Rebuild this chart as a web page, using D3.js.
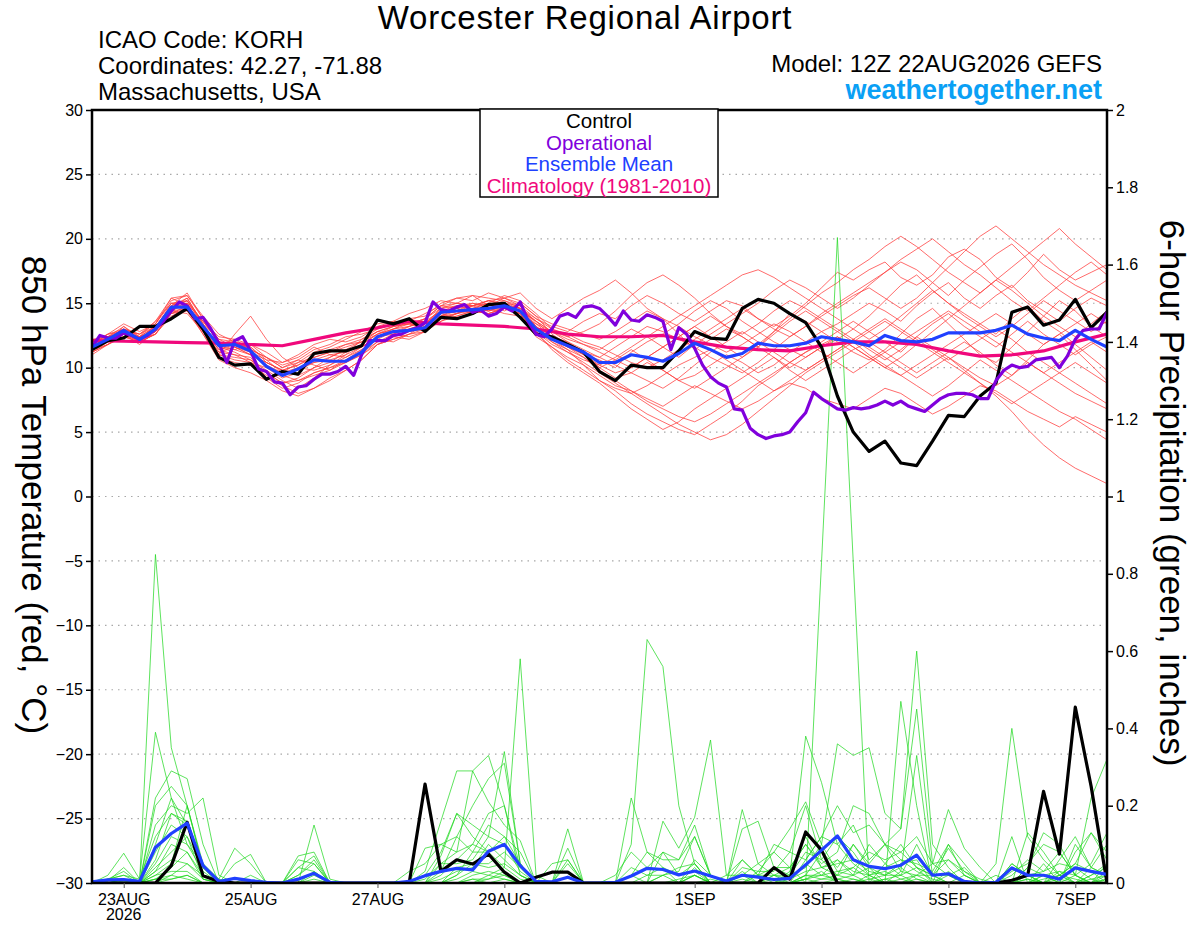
<!DOCTYPE html>
<html>
<head>
<meta charset="utf-8">
<script src="https://cdn.jsdelivr.net/npm/d3@7"></script>
<style>
body { margin: 0; background: #fff; }
text { font-family: "Liberation Sans", Arial, Helvetica, sans-serif; }
</style>
</head>
<body>
<script>
// run start and x-axis labels
var RUN_START = Date.UTC(2026, 7, 22, 12);
var tickDays = [Date.UTC(2026,7,23), Date.UTC(2026,7,25), Date.UTC(2026,7,27), Date.UTC(2026,7,29),
                Date.UTC(2026,8,1), Date.UTC(2026,8,3), Date.UTC(2026,8,5), Date.UTC(2026,8,7)];
var tickNames = ["23AUG", "25AUG", "27AUG", "29AUG", "1SEP", "3SEP", "5SEP", "7SEP"];
var tempTicks = [-30, -25, -20, -15, -10, -5, 0, 5, 10, 15, 20, 25, 30];
var precipTicks = [0, 0.2, 0.4, 0.6, 0.8, 1, 1.2, 1.4, 1.6, 1.8, 2];

// 850 hPa temperature, 6-hourly (control, ensemble mean)
var controlT = [11.4,12.1,12.3,13.2,13.2,13.8,14.6,13.0, 10.8,10.2,10.3,9.1,9.7,9.5,11.1,11.3,
  11.3,11.7,13.7,13.4,13.8,12.8,13.9,13.8, 14.2,14.9,15.0,13.9,12.6,12.4,11.8,11.2,
  9.7,9.0,10.2,10.0,10.0,11.3,12.8,12.3, 12.2,14.6,15.3,15.0,14.2,13.5,11.6,7.8,
  5.0,3.5,4.3,2.6,2.4,4.3,6.3,6.2, 7.8,8.8,14.3,14.7,13.3,13.7,15.3,13.1, 14.3];
var meanT = [11.6,12.2,12.9,12.2,13.0,14.7,14.7,13.2, 11.7,11.8,11.3,10.1,9.4,9.9,10.6,10.5,
  10.5,11.2,12.4,12.8,12.9,13.1,14.3,14.4, 14.5,14.6,14.8,14.4,13.0,12.2,11.7,11.2,
  10.4,10.4,11.0,10.8,10.5,11.1,11.9,11.4, 10.8,11.1,11.9,11.7,11.7,11.9,12.4,12.2,
  12.0,11.7,12.5,12.1,12.0,12.2,12.7,12.7, 12.7,12.9,13.3,12.6,12.3,12.1,12.9,12.2, 11.6];
// operational run, 3-hourly
var operT = [11.6,12.5,12.3,12.3,12.7,12.5,12.2,12.5, 13.0,13.6,14.4,15.1,14.8,13.8,13.9,13.0,
  11.9,10.4,12.1,12.4,11.3,9.9,9.7,8.9, 8.8,7.9,8.5,8.6,9.1,9.5,9.5,9.7,
  10.1,9.4,11.0,12.1,12.1,12.1,12.5,12.6, 12.9,13.1,13.5,15.1,14.5,14.4,14.7,14.9,
  14.3,14.5,14.0,14.2,14.7,14.4,15.1,13.6, 12.6,12.4,13.0,14.0,14.2,13.9,14.7,14.8,
  14.6,14.0,13.3,14.4,13.7,13.6,14.1,13.9, 13.6,11.4,13.1,12.6,11.5,10.2,9.3,8.8,
  8.5,6.8,6.7,5.3,4.8,4.5,4.7,4.8, 5.0,5.8,6.5,8.1,7.6,7.2,6.8,6.7,
  6.9,6.8,6.9,7.1,7.4,7.1,7.4,7.0, 6.8,6.6,7.1,7.6,7.9,8.0,8.0,7.9,
  7.6,7.6,9.0,9.8,10.2,10.0,10.1,10.6, 10.7,10.8,10.0,10.9,12.2,12.9,13.0,13.0, 14.3];
// climatology, 12-hourly
var climT = [12.1,12.05,12.0,11.95,11.9,11.8,11.7,12.2,12.7,13.1,13.6,13.4,13.3,13.2,13.0,12.6,
  12.4,12.4,12.5,12.0,11.6,11.4,11.3,11.7,12.0,12.0,11.8,11.3,10.9,11.0,11.3,12.0,12.6];

// 6-hour precipitation (control, ensemble mean)
var controlP = [0,0,0,0,0,0.045,0.157,0.019,0.004, 0,0,0,0,0,0,0,0,0,0,0,
  0,0.256,0.03,0.06,0.049,0.075,0.028,0,0.015,0.028,0.028,0,
  0,0,0,0,0,0,0,0,0,0,0,0.04,0.01,
  0.132,0.085,0,0,0,0,0,0,0,0,0,0, 0,0.007,0.02,0.237,0.075,0.455,0.25,0];
var meanP = [0.003,0.008,0.009,0.004,0.092,0.128,0.155,0.045,0.004,
  0.012,0.006,0.002,0,0.01,0.025,0.002,0,0,0,0,
  0.004,0.019,0.03,0.038,0.034,0.082,0.1,0.045,0.004,0.003,0.015,0,
  0,0.002,0.018,0.038,0.035,0.021,0.031,0.018,0.005,0.02,0.015,0.009,0.012,
  0.047,0.085,0.122,0.06,0.043,0.037,0.046,0.072,0.02,0.024,0.004,0,
  0.002,0.039,0.02,0.02,0.01,0.039,0.03,0.022];

// ensemble members, temperature (6-hourly, in pieces)
var memberT = [
  [[11.8,12.4,12.6,12.0,13.4,15.2,15.6,13.8],[12.2,11.6,11.0,10.4,9.8,10.2,11.0,11.4,11.8,12.0],[12.8,13.2,13.6,13.2,14.6,15.0,14.8,15.2,15.0,14.6,13.8],[13.2,12.8,13.6,14.2,13.8,14.8,15.6,15.0,14.2,13.6,14.4,15.2,14.8,13.8,13.2,14.0,15.0,16.2],[17.4,16.8,17.6,18.2,17.0,16.4,17.2,18.6,19.2,18.4,17.0,16.2,17.4,18.8,17.6,16.8,17.4,18.0]],
  [[11.4,12.0,13.2,12.4,12.8,14.4,15.0,13.0],[11.2,11.0,10.8,9.2,8.4,8.8,9.6,10.0,10.4,11.0],[12.0,12.6,12.4,12.8,14.0,14.2,14.6,14.4,14.8,14.0,12.4],[11.6,10.8,10.2,9.4,8.6,8.2,7.6,7.0,7.8,8.6,8.0,7.4,6.8,7.4,8.2,8.8,8.4,7.6],[7.2,6.8,7.6,8.4,8.0,7.2,6.4,7.0,7.8,8.6,8.2,7.4,6.6,6.0,5.4,6.2,5.6,5.0]],
  [[12.0,12.6,13.0,12.6,13.6,15.4,14.8,12.8],[11.0,12.6,14.0,12.2,10.8,10.0,9.8,10.2,11.0,12.2],[13.0,13.4,13.8,14.0,15.0,15.4,15.6,14.8,15.4,15.8,14.6],[13.8,14.6,15.4,16.0,16.8,15.8,14.6,13.8,12.6,11.4,12.2,13.0,12.4,11.6,12.8,14.2,13.6,12.8],[12.0,11.2,10.6,11.4,12.6,13.8,14.6,13.4,12.2,11.0,10.4,11.6,12.8,14.0,15.2,14.4,13.2,12.4]],
  [[11.2,11.8,12.4,12.0,12.6,14.0,14.6,13.6],[12.4,12.2,11.4,10.8,10.2,10.6,10.2,9.8,10.6,11.4],[12.2,12.0,12.6,13.4,14.2,13.8,14.2,14.6,14.2,14.0,13.4],[12.8,12.0,11.2,10.0,9.2,9.6,10.4,9.8,9.0,9.4,10.2,11.0,10.4,9.6,10.2,11.2,12.0,12.8],[13.4,14.2,15.0,14.4,13.6,14.8,15.8,16.6,15.4,14.6,15.6,16.4,15.2,14.4,13.6,14.6,15.4,14.8]],
  [[11.6,12.2,12.8,12.6,13.2,14.8,15.4,13.4],[11.6,11.2,10.6,9.6,8.8,9.2,10.0,10.4,11.2,11.8],[12.6,13.0,13.4,13.0,13.6,14.2,14.8,15.0,14.4,15.0,14.0],[12.6,11.8,11.0,10.6,10.0,11.2,12.0,12.6,13.4,14.4,15.2,14.6,13.6,12.8,12.0,11.4,10.8,11.6],[12.2,13.0,14.0,15.2,16.4,17.2,16.0,15.0,14.2,13.4,12.6,13.8,14.8,13.6,12.8,11.8,10.8,9.8]],
  [[11.8,12.2,12.4,12.2,13.2,14.2,14.4,12.6],[10.8,10.4,10.2,9.4,8.6,8.0,8.4,9.0,9.8,10.6],[11.8,12.4,12.8,13.0,13.8,14.0,14.4,14.2,14.6,14.2,12.8],[11.4,10.4,9.6,8.8,7.8,6.8,6.0,5.2,5.8,6.8,7.6,8.4,9.2,10.0,10.8,9.8,9.0,9.8],[10.6,11.4,12.0,11.2,10.4,9.6,10.4,11.2,12.0,11.2,10.2,9.4,10.6,11.8,12.6,11.4,10.2,9.0]],
  [[11.4,12.4,13.0,12.6,13.4,15.0,15.2,13.6],[12.0,11.8,11.6,10.6,9.6,10.4,11.2,11.6,12.2,12.8],[13.4,13.6,14.2,14.6,15.2,15.0,15.6,15.4,15.2,14.6,13.6],[12.8,12.2,11.8,11.4,12.2,13.0,12.4,11.6,10.8,11.8,12.6,13.4,14.2,15.0,16.0,16.8,16.2,15.4],[14.6,15.4,16.4,17.4,18.2,17.6,16.6,15.6,16.8,17.8,18.8,19.6,18.4,17.0,16.0,15.2,16.0,16.8]],
  [[12.2,12.4,12.6,12.4,12.8,14.6,15.0,13.0],[11.4,11.0,10.4,10.0,9.6,9.8,10.4,10.8,11.4,11.6],[12.4,12.6,13.0,13.4,14.4,14.6,14.2,14.8,15.2,14.8,13.2],[12.0,11.4,10.2,9.0,8.2,7.2,6.4,5.8,5.2,4.8,5.6,6.4,7.4,8.6,9.4,10.4,11.2,12.0],[12.8,13.6,12.8,12.0,11.2,12.4,13.4,14.2,13.2,12.4,11.6,12.6,13.6,12.6,11.8,11.0,11.8,12.4]],
  [[11.0,11.8,12.6,12.2,13.0,14.8,15.8,13.8],[11.8,11.4,11.8,11.2,10.4,10.8,11.6,11.0,10.8,11.6],[12.4,13.0,13.2,13.8,14.6,14.8,14.6,15.0,15.6,15.2,14.2],[13.0,12.4,12.8,13.4,14.4,15.6,16.6,17.2,16.4,15.4,14.2,13.2,12.6,13.4,14.4,15.2,14.6,13.8],[13.0,12.2,11.4,10.6,11.4,12.4,11.6,10.8,10.0,9.2,8.6,9.4,10.4,9.6,8.8,8.0,7.4,6.8]],
  [[11.6,12.0,12.8,12.0,12.6,14.4,14.2,12.8],[11.2,11.6,11.0,10.2,9.4,9.0,9.6,10.0,10.6,11.2],[12.0,12.4,12.2,12.8,13.6,14.0,14.4,14.2,14.6,14.4,13.6],[12.4,11.6,11.2,10.8,11.6,12.4,13.2,12.8,12.2,11.6,10.8,10.2,9.6,10.4,11.4,12.4,13.2,14.0],[14.8,15.6,16.2,15.4,14.6,15.4,16.6,17.8,19.0,20.2,21.0,20.0,19.0,18.0,17.2,16.4,15.8,15.2]],
  [[11.8,12.6,13.4,12.8,13.4,15.4,15.6,14.0],[12.6,12.0,11.2,10.6,10.4,11.0,11.8,12.2,12.0,12.4],[13.2,13.6,13.4,13.8,14.8,15.4,15.2,15.8,15.4,14.8,13.8],[13.0,12.6,12.0,11.6,11.0,10.4,10.0,10.6,11.4,12.2,13.0,13.8,14.6,13.8,13.0,12.4,13.2,14.2],[15.0,15.8,16.6,17.4,18.4,19.2,20.0,19.0,18.0,17.2,16.2,15.2,14.4,15.4,16.4,17.4,18.2,17.2]],
  [[11.4,11.8,12.6,12.2,12.6,14.2,14.8,13.0],[11.0,10.8,10.6,9.8,9.0,8.4,9.2,10.2,10.8,11.4],[12.2,12.8,13.2,13.6,14.0,14.4,14.8,14.4,14.6,14.2,12.6],[11.6,10.6,9.8,9.0,8.4,8.0,8.6,9.4,10.2,10.8,11.4,10.6,9.8,9.0,8.2,9.0,9.8,10.6],[11.4,12.2,13.0,13.8,13.0,12.2,11.4,10.6,11.4,12.2,13.0,12.2,11.2,10.4,9.6,8.8,8.0,7.2]],
  [[12.0,12.2,13.0,12.4,13.2,14.6,15.2,13.2],[11.8,12.0,11.4,10.8,10.0,10.4,10.8,11.2,11.8,12.2],[12.8,12.6,13.2,13.6,14.4,14.8,15.0,14.6,15.0,14.4,13.0],[12.2,11.6,11.0,10.2,9.6,10.0,10.8,11.6,12.4,13.2,12.4,11.6,10.8,11.6,12.6,13.6,14.4,13.6],[12.8,12.0,11.0,10.2,9.4,8.6,7.8,8.6,9.6,10.6,9.8,9.0,8.2,7.4,6.6,6.0,5.2,4.4]],
  [[11.2,12.0,12.6,11.8,12.8,14.6,15.4,13.4],[11.6,11.4,11.0,10.4,9.8,9.4,10.0,10.8,11.4,12.0],[12.6,13.2,13.4,13.2,14.2,14.4,15.0,14.8,15.0,14.8,13.4],[12.4,12.0,11.4,10.8,10.2,9.6,9.0,8.4,9.2,10.2,11.2,12.0,12.8,12.0,11.2,10.4,9.8,10.6],[11.4,12.2,11.6,10.8,10.0,9.2,10.0,10.8,9.8,8.8,7.8,6.6,5.2,4.0,3.0,2.2,1.6,1.0]],
  [[11.6,12.4,13.2,12.2,13.0,15.0,14.6,13.0],[11.4,11.8,11.4,10.0,9.2,9.6,10.6,11.0,11.2,11.8],[12.6,13.0,13.6,14.2,14.8,14.6,14.2,14.6,14.8,14.2,12.8],[12.0,11.2,10.6,10.2,10.8,11.6,12.4,13.2,14.0,14.8,15.6,16.4,17.2,17.6,17.0,16.2,15.4,14.6],[13.8,13.0,12.2,13.0,14.0,15.0,16.0,15.0,14.0,13.2,12.4,13.2,14.2,15.2,14.4,13.6,12.8,13.6]],
  [[11.8,12.6,12.8,12.4,13.6,15.0,15.0,13.6],[12.0,11.6,11.2,10.2,9.6,10.0,10.4,10.6,11.0,11.6],[12.4,12.8,13.0,13.4,14.6,14.2,14.6,15.0,14.6,14.4,13.2],[12.4,11.6,10.8,10.0,10.6,11.4,10.6,9.8,9.0,8.4,9.2,10.0,10.8,11.8,12.8,13.8,14.8,15.8],[16.6,17.6,18.4,19.4,20.2,19.4,18.4,17.4,16.6,15.8,16.8,17.8,18.8,19.8,20.8,19.6,18.6,17.6]],
  [[11.4,12.2,13.0,12.2,12.8,14.6,14.8,13.2],[11.8,12.2,11.8,10.8,10.0,10.6,11.4,11.8,12.4,12.6],[13.0,13.4,13.6,13.2,14.0,14.6,14.8,15.2,14.8,14.6,13.6],[12.8,12.4,11.8,11.2,10.6,10.0,10.8,11.6,12.4,13.2,14.0,13.2,12.4,11.6,10.8,10.0,10.8,11.6],[12.4,11.6,10.8,10.0,9.4,10.2,11.0,11.8,12.6,13.4,14.2,13.4,12.6,11.8,12.6,13.4,14.2,13.4]],
  [[12.0,12.4,12.8,12.0,13.0,14.4,14.6,12.8],[11.0,10.6,10.4,9.6,8.8,9.0,9.4,9.8,10.4,11.0],[11.8,12.2,12.6,13.0,13.8,14.2,14.6,14.4,14.8,14.6,13.2],[12.2,11.4,10.8,9.8,9.0,8.2,7.4,6.8,6.2,5.8,6.4,7.2,8.0,8.8,9.6,10.4,11.2,11.8],[12.4,11.6,10.8,10.0,10.8,11.8,12.8,13.8,14.8,15.8,16.8,16.0,15.0,14.0,13.2,12.4,13.4,14.4]],
  [[11.6,12.2,12.6,12.4,13.2,14.8,15.2,13.4],[12.2,12.0,11.6,10.4,9.8,10.2,10.8,11.2,11.6,12.0],[12.8,13.2,13.4,13.8,14.8,15.0,14.8,15.2,15.4,15.0,14.0],[13.4,13.0,12.6,12.2,12.8,13.6,14.4,13.8,13.2,12.4,11.8,11.2,11.8,12.6,13.4,12.8,12.0,11.2],[10.4,9.6,10.4,11.2,12.0,12.8,13.6,14.4,13.6,12.8,12.0,11.2,10.4,9.6,10.4,11.2,12.0,11.2]],
  [[11.2,11.8,12.4,12.0,12.6,14.2,14.6,12.6],[10.6,10.0,9.6,9.0,8.2,7.8,8.4,9.2,9.8,10.6],[11.8,12.2,12.6,12.8,13.8,14.2,14.4,14.2,14.6,14.2,12.8],[11.8,11.2,10.4,9.6,8.8,8.0,7.2,6.4,5.6,5.0,4.4,4.8,5.6,6.6,7.6,8.6,9.6,10.4],[11.2,12.0,12.8,13.6,12.8,12.0,11.2,10.4,9.6,8.8,8.0,7.2,8.0,8.8,9.6,10.4,9.6,8.8]]
].map(function (m) { return m.flat(); });

// ensemble members, precipitation (6-hourly, in pieces)
var memberP = [
  [[0,0.01,0.03,0,0.85,0.35,0.2,0.05,0],[0,0,0,0,0.02,0.06,0,0,0,0,0],[0,0.02,0.08,0.18,0.12,0.08,0.04,0.58,0.02,0,0.05,0],[0,0,0.02,0.08,0.04,0,0.06,0.02,0,0,0.03,0.08,0.04],[0,0.83,1.67,0.83,0,0.05,0.1,0.04,0,0.02,0,0],[0,0.05,0.02,0,0.03,0,0.04,0.1]],
  [[0,0.02,0.077,0.01,0.39,0.22,0.15,0.04,0.01],[0.09,0.05,0,0,0,0.15,0.01,0,0,0,0],[0,0.01,0.05,0.08,0.29,0.33,0.2,0.04,0,0,0,0],[0,0,0.1,0.63,0.56,0.2,0.05,0,0.02,0.06,0.02,0.1,0.08],[0.2,0.06,0.02,0.1,0.04,0,0.03,0.33,0.02,0.09,0.03,0],[0,0.02,0.06,0.03,0.08,0.02,0,0.05]],
  [[0.005,0.01,0.02,0,0.22,0.29,0.27,0.1,0],[0.05,0.074,0,0,0.07,0.08,0,0,0,0,0],[0.03,0.05,0.1,0.12,0.2,0.27,0.31,0.05,0,0,0,0],[0,0,0,0,0.16,0.09,0.17,0.37,0.02,0.02,0.05,0.02,0],[0.06,0.12,0.2,0.13,0.15,0.1,0.14,0.6,0.1,0.04,0,0],[0,0,0.13,0.08,0.02,0.05,0.13,0.08]],
  [[0,0,0.01,0,0.2,0.25,0.2,0.04,0],[0,0.02,0,0,0.04,0.07,0,0,0,0,0],[0,0.03,0.16,0.29,0.29,0.21,0.15,0.11,0,0,0.09,0],[0,0,0.22,0.08,0.06,0.06,0.15,0.02,0,0.14,0.16,0.04,0.02],[0.38,0.26,0.1,0.05,0.02,0,0.47,0.2,0,0.1,0.05,0],[0.02,0,0.04,0.13,0.1,0.02,0,0.03]],
  [[0,0.005,0.04,0,0.15,0.2,0.18,0.22,0.02],[0,0,0,0,0.06,0.05,0,0,0,0,0],[0,0,0.07,0.18,0.15,0.12,0.34,0.05,0,0,0.14,0],[0,0.02,0.08,0.04,0.08,0.06,0.12,0.02,0,0.19,0.05,0.08,0.14],[0.21,0.1,0.36,0.33,0.35,0.18,0.14,0.45,0.05,0.19,0.09,0.04],[0,0.05,0.02,0,0.06,0.12,0.04,0.02]],
  [[0,0.01,0.02,0.01,0.12,0.18,0.15,0.05,0],[0,0,0,0,0.02,0.05,0,0,0,0,0],[0,0.09,0.1,0.08,0.1,0.18,0.2,0.02,0,0,0.06,0],[0,0,0,0,0.08,0.02,0.05,0,0,0.06,0.02,0.04,0.04],[0.1,0.05,0.08,0.2,0.18,0.1,0.08,0.12,0.05,0.06,0.02,0],[0.05,0.4,0.12,0.06,0.02,0,0.02,0.05]],
  [[0,0,0.01,0,0.08,0.15,0.12,0.04,0],[0,0,0,0,0.04,0.03,0,0,0,0,0],[0,0,0.05,0.05,0.06,0.12,0.1,0.05,0,0.05,0.06,0],[0,0,0.04,0.02,0.02,0.04,0.05,0,0,0.04,0.03,0.03,0.08],[0.06,0.12,0.1,0.15,0.06,0.1,0.06,0.05,0.03,0.1,0.02,0],[0,0.03,0.05,0.1,0.08,0.02,0.22,0.32]],
  [[0,0,0.01,0,0.05,0.12,0.1,0.05,0.01],[0,0,0,0,0,0.03,0,0,0,0,0],[0,0,0.03,0.12,0.08,0.08,0.12,0.05,0,0,0,0],[0,0,0.02,0,0.02,0.03,0.12,0.02,0,0.02,0.02,0.02,0.04],[0.1,0.04,0.06,0.02,0.1,0.05,0.02,0.1,0.02,0.02,0.04,0],[0,0.12,0,0.05,0,0.08,0.13,0.06]],
  [[0,0,0,0,0.03,0.1,0.08,0.02,0],[0,0,0,0,0,0.02,0,0,0,0,0],[0,0,0.02,0.06,0.1,0.08,0.1,0.03,0,0,0,0],[0,0,0,0.02,0.04,0.02,0.03,0,0,0.03,0,0.02,0.02],[0.04,0.1,0.03,0.04,0.08,0.06,0.08,0.04,0.02,0.06,0.03,0.01],[0,0,0.04,0.02,0.03,0.02,0.05,0.13]],
  [[0,0,0,0,0.02,0.05,0.2,0.04,0],[0,0,0,0,0,0.01,0,0,0,0,0],[0,0,0,0.04,0.05,0.05,0.08,0.04,0,0,0,0],[0,0,0,0,0,0.01,0.02,0,0,0,0,0,0.02],[0.08,0.06,0.12,0.08,0.02,0.04,0.06,0.03,0.01,0,0.02,0],[0,0,0.02,0.03,0.05,0.04,0.01,0.02]],
  [[0,0,0,0,0.1,0.22,0.1,0.03,0],[0,0,0,0,0,0,0,0,0,0,0],[0,0,0,0.02,0.08,0.15,0.12,0.08,0,0,0,0],[0,0,0,0,0.02,0,0.02,0,0,0.02,0,0,0.03],[0.12,0.04,0.05,0.06,0.03,0.02,0.05,0.06,0,0.03,0,0],[0,0,0.01,0,0.02,0.05,0.03,0]],
  [[0,0,0,0,0.06,0.18,0.16,0.02,0],[0,0,0,0,0,0,0,0,0,0,0],[0,0,0.01,0.03,0.04,0.1,0.06,0.02,0,0,0,0],[0,0,0,0,0,0,0.04,0,0,0,0.02,0,0],[0.02,0.08,0.04,0.1,0.05,0.1,0.03,0.02,0.05,0.02,0,0],[0,0,0,0.02,0,0.1,0.04,0.02]],
  [[0,0,0.005,0,0.04,0.08,0.12,0.01,0],[0,0,0,0,0,0,0,0,0,0,0],[0,0,0,0.02,0.05,0.04,0.05,0.02,0,0,0,0],[0,0,0,0,0,0,0.02,0,0,0,0,0.02,0.01],[0.05,0.02,0.03,0.02,0.04,0.02,0.02,0.04,0.02,0,0,0],[0,0,0.02,0,0,0.02,0,0]],
  [[0,0,0,0,0.03,0.06,0.05,0.02,0],[0,0,0,0,0,0,0,0,0,0,0],[0,0,0,0,0.02,0.03,0.02,0,0,0,0,0],[0,0,0,0,0,0,0,0.01,0,0,0,0,0],[0.02,0.02,0.06,0.03,0.02,0.03,0.01,0.02,0.02,0,0,0],[0,0,0,0.01,0.02,0,0.02,0.04]],
  [[0,0,0,0,0.01,0.04,0.08,0.01,0],[0,0,0,0,0,0,0,0,0,0,0],[0,0,0,0.01,0.03,0.02,0.04,0.01,0,0,0,0],[0,0,0,0,0,0,0,0,0,0.01,0,0,0.01],[0.03,0.04,0.02,0.04,0.01,0.02,0.04,0.01,0,0,0,0],[0,0,0.01,0,0.02,0.01,0,0.01]],
  [[0,0,0,0,0.02,0.03,0.03,0,0],[0,0,0,0,0,0,0,0,0,0,0],[0,0,0,0,0.01,0.01,0.02,0,0,0,0,0],[0,0,0,0,0,0,0,0,0,0,0,0,0],[0.01,0.02,0.01,0.02,0,0.01,0.02,0,0,0,0,0],[0,0,0,0,0,0,0,0.02]],
  [[0,0,0,0,0,0.02,0.05,0.01,0],[0,0,0,0,0,0,0,0,0,0,0],[0,0,0,0,0,0.02,0.01,0,0,0,0,0],[0,0,0,0,0,0,0,0,0,0,0,0.01,0],[0.01,0.03,0,0.01,0,0,0,0.02,0,0,0,0],[0,0,0,0,0,0,0.01,0]],
  [[0,0,0,0,0.01,0.01,0.02,0,0],[0,0,0,0,0,0,0,0,0,0,0],[0,0,0,0,0,0.01,0.03,0,0,0,0,0],[0,0,0,0,0,0,0.02,0,0,0,0,0,0],[0.02,0.01,0.01,0,0.02,0,0.01,0,0,0,0,0],[0,0,0,0.02,0,0,0,0]],
  [[0,0,0,0,0,0.01,0.02,0,0],[0,0,0,0,0,0,0,0,0,0,0],[0,0,0,0,0.01,0,0.01,0,0,0,0,0],[0,0,0,0,0,0,0,0,0,0,0,0,0],[0,0.01,0.02,0.01,0,0.01,0,0.01,0,0,0,0],[0,0,0,0,0.01,0,0,0.01]],
  [[0,0,0,0,0.01,0.02,0.01,0,0],[0,0,0,0,0,0,0,0,0,0,0],[0,0,0,0,0,0,0,0,0,0,0,0],[0,0,0,0,0,0,0,0,0,0,0,0,0],[0.01,0,0.01,0,0.01,0,0,0,0,0,0,0],[0,0,0,0,0,0,0,0]]
].map(function (m) { return m.flat(); });

var HOUR = 3600e3;
var LEFT = 92, RIGHT = 1107, TOP = 110, BOTTOM = 883;

var svg = d3.select("body").append("svg")
    .attr("width", 1200)
    .attr("height", 927);

var x = d3.scaleUtc()
    .domain([new Date(RUN_START), new Date(RUN_START + 16 * 24 * HOUR)])
    .range([LEFT, RIGHT]);
var yT = d3.scaleLinear().domain([-30, 30]).range([BOTTOM, TOP]);
var yP = d3.scaleLinear().domain([0, 2]).range([BOTTOM, TOP]);

// time of point i for a series with given step in hours
function lineFor(yScale, stepHours) {
    return d3.line()
        .x(function (d, i) { return x(new Date(RUN_START + i * stepHours * HOUR)); })
        .y(function (d) { return yScale(d); });
}

svg.append("clipPath").attr("id", "plotclip")
  .append("rect")
    .attr("x", LEFT).attr("y", TOP)
    .attr("width", RIGHT - LEFT).attr("height", BOTTOM - TOP);

// dotted grid
svg.append("g").selectAll("line")
    .data(tempTicks.filter(function (v) { return v > -30 && v < 30; }))
  .enter().append("line")
    .attr("x1", LEFT).attr("x2", RIGHT)
    .attr("y1", function (d) { return yT(d); })
    .attr("y2", function (d) { return yT(d); })
    .attr("stroke", "#a8a8a8")
    .attr("stroke-width", 1.2)
    .attr("stroke-dasharray", "1.5,5");

var plot = svg.append("g").attr("clip-path", "url(#plotclip)");

plot.selectAll("path.tmem").data(memberT).enter().append("path")
    .attr("class", "tmem")
    .attr("d", lineFor(yT, 6))
    .attr("fill", "none")
    .attr("stroke", "#ff3c3c")
    .attr("stroke-opacity", 0.85)
    .attr("stroke-width", 0.9);

plot.selectAll("path.pmem").data(memberP).enter().append("path")
    .attr("class", "pmem")
    .attr("d", lineFor(yP, 6))
    .attr("fill", "none")
    .attr("stroke", "#1ed81e")
    .attr("stroke-opacity", 0.9)
    .attr("stroke-width", 0.8);

function bold(data, yScale, step, colour) {
    plot.append("path")
        .datum(data)
        .attr("d", lineFor(yScale, step))
        .attr("fill", "none")
        .attr("stroke", colour)
        .attr("stroke-width", 3.2)
        .attr("stroke-linejoin", "round");
}

bold(climT, yT, 12, "#f0087c");
bold(controlT, yT, 6, "#000000");
bold(operT, yT, 3, "#8000dc");
bold(meanT, yT, 6, "#2040ff");
bold(controlP, yP, 6, "#000000");
bold(meanP, yP, 6, "#2040ff");

// frame
svg.append("rect")
    .attr("x", LEFT).attr("y", TOP)
    .attr("width", RIGHT - LEFT).attr("height", BOTTOM - TOP)
    .attr("fill", "none")
    .attr("stroke", "#000")
    .attr("stroke-width", 2.5);

// axes
var leftAxis = svg.append("g")
    .attr("transform", "translate(" + LEFT + ",0)")
    .call(d3.axisLeft(yT).tickValues(tempTicks).tickSize(6).tickPadding(3));
var rightAxis = svg.append("g")
    .attr("transform", "translate(" + RIGHT + ",0)")
    .call(d3.axisRight(yP).tickValues(precipTicks).tickSize(6).tickPadding(3)
        .tickFormat(function (d) { return String(+d.toFixed(1)); }));
var bottomAxis = svg.append("g")
    .attr("transform", "translate(0," + BOTTOM + ")")
    .call(d3.axisBottom(x).tickValues(tickDays.map(function (t) { return new Date(t); }))
        .tickSize(5).tickPadding(6)
        .tickFormat(function (d, i) { return tickNames[i]; }));

[leftAxis, rightAxis, bottomAxis].forEach(function (g) {
    g.select(".domain").remove();
    g.selectAll("text")
        .attr("font-family", "Liberation Sans, Arial, sans-serif")
        .attr("font-size", 16)
        .attr("fill", "#000");
    g.selectAll("line").attr("stroke", "#000").attr("stroke-width", 1.5);
});
bottomAxis.selectAll("line").attr("stroke", "#555").attr("stroke-width", 1);

svg.append("text")
    .attr("x", x(new Date(tickDays[0])))
    .attr("y", 920)
    .attr("text-anchor", "middle")
    .attr("font-size", 16)
    .text("2026");

// axis titles
svg.append("text")
    .attr("transform", "translate(22,495) rotate(90)")
    .attr("text-anchor", "middle")
    .attr("font-size", 35)
    .text("850 hPa Temperature (red, °C)");
svg.append("text")
    .attr("transform", "translate(1160,493) rotate(90)")
    .attr("text-anchor", "middle")
    .attr("font-size", 35)
    .text("6-hour Precipitation (green, inches)");

// legend
var legend = svg.append("g");
legend.append("rect")
    .attr("x", 480).attr("y", 109)
    .attr("width", 238).attr("height", 88)
    .attr("fill", "#fff")
    .attr("stroke", "#000")
    .attr("stroke-width", 1.5);
var legendItems = [
    ["Control", "#000000"],
    ["Operational", "#8000dc"],
    ["Ensemble Mean", "#2040ff"],
    ["Climatology (1981-2010)", "#f0087c"]
];
legend.selectAll("text").data(legendItems).enter().append("text")
    .attr("x", 599)
    .attr("y", function (d, i) { return 128 + i * 21.5; })
    .attr("text-anchor", "middle")
    .attr("font-size", 20.5)
    .attr("fill", function (d) { return d[1]; })
    .text(function (d) { return d[0]; });

// header
svg.append("text")
    .attr("x", 585).attr("y", 29)
    .attr("text-anchor", "middle")
    .attr("font-size", 33)
    .attr("letter-spacing", 0.8)
    .text("Worcester Regional Airport");

var info = ["ICAO Code: KORH", "Coordinates: 42.27, -71.88", "Massachusetts, USA"];
svg.selectAll("text.info").data(info).enter().append("text")
    .attr("class", "info")
    .attr("x", 98)
    .attr("y", function (d, i) { return 48 + i * 26; })
    .attr("font-size", 24)
    .text(function (d) { return d; });

svg.append("text")
    .attr("x", 1102).attr("y", 72)
    .attr("text-anchor", "end")
    .attr("font-size", 24)
    .text("Model: 12Z 22AUG2026 GEFS");
svg.append("text")
    .attr("x", 1102).attr("y", 99)
    .attr("text-anchor", "end")
    .attr("font-size", 27)
    .attr("font-weight", "bold")
    .attr("fill", "#0aa0f5")
    .text("weathertogether.net");
</script>
</body>
</html>
